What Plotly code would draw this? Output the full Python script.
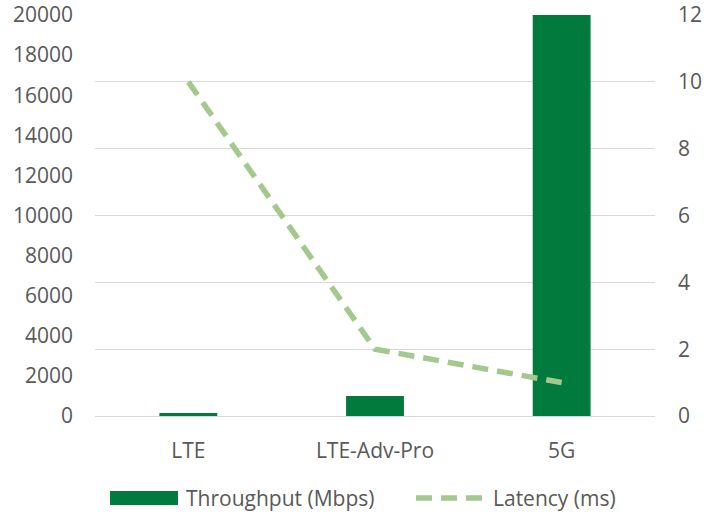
import plotly.graph_objects as go

categories = ["LTE", "LTE-Adv-Pro", "5G"]
throughput_mbps = [150, 1000, 20000]
latency_ms = [10, 2, 1]
left_ticks = list(range(0, 20001, 2000))
right_ticks = list(range(0, 13, 2))

W, H = 705, 516
L, R, T, B = 95, 655, 15, 416
FONT = "Open Sans"
FS = 21
TXT = "#595959"
BAR = "#007A3D"
LINE = "#A3C98F"

def px(x):
    return (x - L) / (R - L)

def py(y):
    return (B - y) / (B - T)

fig = go.Figure()
fig.add_trace(go.Bar(x=categories, y=throughput_mbps, name="Throughput (Mbps)",
                     marker=dict(color=BAR, line=dict(width=0)), width=0.31,
                     yaxis="y", showlegend=False))
fig.add_trace(go.Scatter(x=categories, y=latency_ms, name="Latency (ms)", mode="lines",
                         line=dict(color=LINE, width=5.5, dash="16px,9px"),
                         yaxis="y2", showlegend=False))

fig.update_layout(
    width=W, height=H,
    margin=dict(l=L, r=W - R, t=T, b=H - B, pad=0, autoexpand=False),
    plot_bgcolor="white", paper_bgcolor="white",
    font=dict(family=FONT, size=FS, color=TXT),
    xaxis=dict(showgrid=False, showline=True, linecolor="#d9d9d9", linewidth=1,
               automargin=False,
               ticks="", ticklabelstandoff=16, tickfont=dict(size=FS, color=TXT)),
    yaxis=dict(range=[0, 20000], tickvals=left_ticks, ticktext=[str(v) for v in left_ticks],
               showgrid=False, zeroline=False, showline=False, ticks="", automargin=False,
               ticklabelstandoff=21, tickfont=dict(size=FS, color=TXT)),
    yaxis2=dict(range=[0, 12], tickvals=right_ticks, overlaying="y", side="right",
                showgrid=True, gridcolor="#d9d9d9", gridwidth=1, zeroline=False,
                showline=False, ticks="", ticklabelstandoff=22, automargin=False,
                tickfont=dict(size=FS, color=TXT)),
    showlegend=False,
)

# custom legend
fig.add_shape(type="rect", xref="paper", yref="paper",
              x0=px(110), x1=px(178), y0=py(505), y1=py(491),
              fillcolor=BAR, line=dict(width=0))
fig.add_annotation(xref="paper", yref="paper", x=px(184), y=py(498),
                   text="Throughput (Mbps)", showarrow=False, xanchor="left", yanchor="middle",
                   font=dict(size=FS, color=TXT, family=FONT))
fig.add_shape(type="line", xref="paper", yref="paper",
              x0=px(416), x1=px(482), y0=py(498), y1=py(498),
              line=dict(color=LINE, width=5.5, dash="16px,9px"))
fig.add_annotation(xref="paper", yref="paper", x=px(491), y=py(498),
                   text="Latency (ms)", showarrow=False, xanchor="left", yanchor="middle",
                   font=dict(size=FS, color=TXT, family=FONT))

fig.write_html("out.html", config={"displayModeBar": False},
               post_script="document.body.style.margin='0';")
